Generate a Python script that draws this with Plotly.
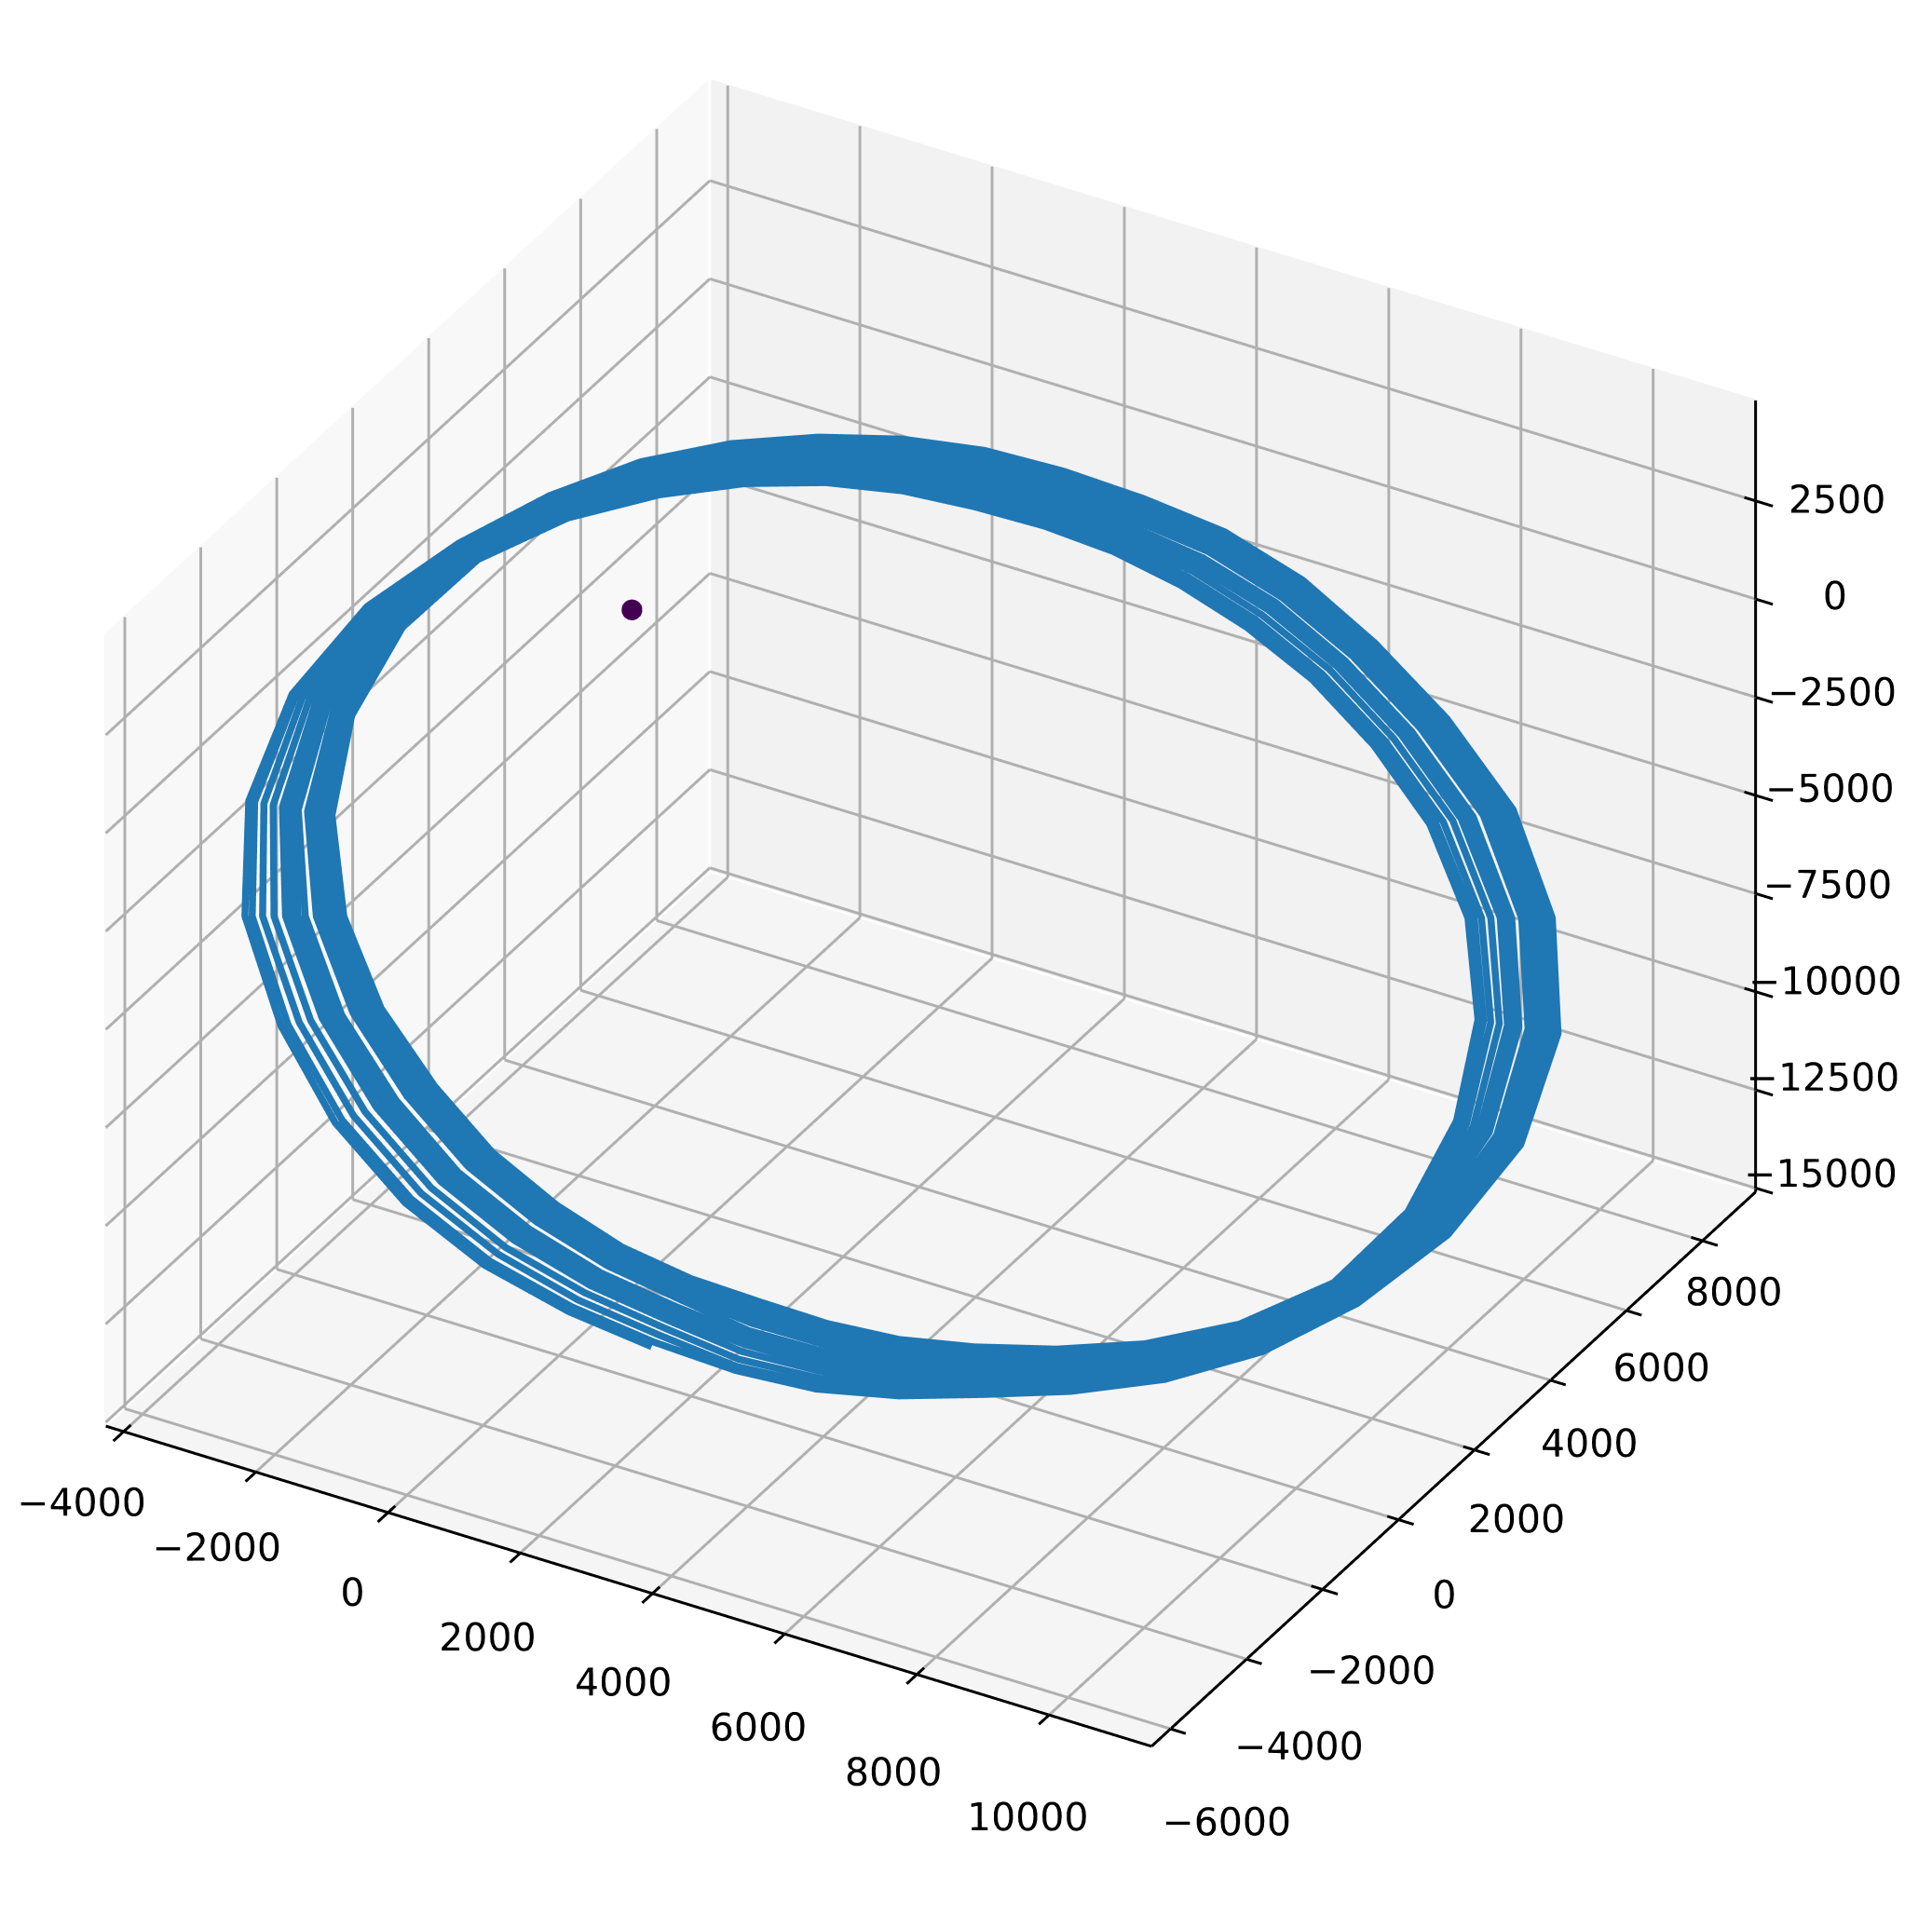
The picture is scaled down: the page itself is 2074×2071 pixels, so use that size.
import plotly.graph_objects as go

# orbit track, in tens of km, one list per revolution
x_loops = [
    [374,272,161,45,-74,-188,-293,-363,-390,-374,-327,-270,-204,-129,-49,33,119,209,303,402,508,618,735,857,964,1044,1079,1067,1024,964,888,805,723,643,559,470],
    [373,272,163,48,-69,-182,-286,-357,-386,-371,-325,-267,-202,-127,-47,35,121,210,303,402,507,616,732,853,959,1039,1075,1064,1022,961,885,803,720,641,557,468],
    [373,273,167,54,-61,-173,-276,-347,-378,-366,-322,-264,-198,-123,-44,38,123,211,303,401,505,614,729,849,954,1033,1070,1060,1019,958,882,799,717,637,554,465],
    [372,275,170,60,-52,-163,-265,-337,-370,-361,-319,-261,-195,-120,-41,40,125,212,303,400,504,612,725,844,949,1028,1065,1056,1017,955,878,795,713,634,550,463],
    [371,276,174,66,-44,-153,-254,-327,-362,-356,-316,-258,-191,-116,-38,43,126,213,304,400,502,609,722,840,944,1023,1059,1052,1014,952,875,792,710,630,547,461],
    [371,277,176,69,-39,-148,-248,-322,-358,-353,-314,-256,-188,-114,-36,45,128,214,304,399,501,607,719,836,939,1017,1055,1049,1012,950,872,789,707,628,545,460],
    [371,277,178,72,-35,-142,-242,-316,-353,-350,-312,-254,-186,-111,-33,47,130,215,304,399,499,605,716,832,935,1012,1050,1046,1010,947,870,787,705,626,543,458],
    [370,278,180,76,-30,-137,-235,-310,-348,-346,-310,-252,-183,-108,-30,50,133,217,305,398,497,600,709,823,925,1002,1041,1040,1006,943,865,783,701,623,541,457],
    [370,279,183,82,-22,-127,-224,-300,-340,-341,-307,-248,-179,-104,-26,53,135,218,305,397,495,598,706,818,919,996,1036,1036,1003,940,862,779,698,619,538,455],
    [369,280,185,85,-17,-121,-218,-294,-335,-338,-305,-246,-176,-102,-24,55,136,219,305,396,493,595,702,813,914,990,1030,1032,1000,937,859,776,695,617,536,453],
    [369,281,187,88,-12,-116,-212,-288,-331,-335,-303,-244,-173,-98,-21,58,139,221,306,396,491,591,696,806,905,981,1022,1027,997,933,855,773,692,614,534,452],
    [369,281,189,91,-9,-112,-207,-283,-327,-332,-301,-242,-170,-95,-17,61,142,222,306,395,488,587,690,798,896,972,1014,1022,993,930,852,769,689,611,532,450],
    [368,282,190,93,-5,-108,-202,-279,-323,-329,-299,-240,-168,-92,-15,64,144,224,307,394,486,584,685,791,889,964,1008,1017,990,927,848,766,687,609,530,449],
    [368,282,192,96,-2,-103,-198,-274,-319,-327,-298,-238,-165,-90,-13,66,145,225,307,393,484,581,682,786,883,958,1002,1014,988,924,846,764,684,607,528,448,368],
]
y_loops = [
    [-607,-647,-676,-683,-661,-605,-517,-385,-224,-55,104,245,370,477,568,647,713,766,812,853,874,873,858,820,737,613,454,283,120,-25,-150,-254,-342,-424,-496,-553],
    [-599,-639,-667,-673,-651,-597,-510,-380,-221,-54,104,245,369,475,565,643,709,761,806,847,867,867,852,815,732,609,452,282,120,-25,-149,-252,-339,-420,-490,-548],
    [-587,-625,-651,-657,-635,-583,-500,-373,-218,-53,104,244,367,472,562,638,703,756,801,841,861,861,846,809,727,605,450,281,120,-24,-147,-249,-335,-414,-482,-537],
    [-574,-611,-636,-641,-620,-570,-489,-366,-214,-51,104,243,365,469,558,634,698,750,795,834,854,855,840,803,722,601,447,280,120,-24,-145,-246,-331,-408,-473,-525],
    [-562,-597,-620,-625,-604,-557,-478,-359,-211,-50,104,243,364,467,554,629,693,745,789,827,848,849,834,797,717,597,445,279,120,-23,-144,-243,-326,-402,-465,-514],
    [-555,-589,-611,-616,-595,-549,-472,-355,-209,-50,104,242,362,465,552,626,688,740,783,821,841,843,828,791,712,594,443,278,120,-22,-142,-241,-324,-398,-459,-508],
    [-548,-581,-603,-607,-586,-542,-466,-351,-206,-49,104,242,361,463,549,622,684,735,778,815,835,837,822,785,707,590,441,278,120,-22,-141,-239,-321,-394,-454,-502],
    [-539,-573,-593,-598,-577,-534,-459,-347,-204,-48,104,241,360,460,545,616,676,726,768,803,823,825,810,774,698,583,437,276,120,-21,-139,-236,-317,-388,-448,-495],
    [-527,-559,-578,-582,-562,-521,-449,-340,-201,-47,104,241,358,457,541,611,670,720,761,796,815,818,803,767,692,579,434,275,120,-20,-137,-233,-312,-382,-439,-484],
    [-520,-551,-569,-573,-553,-514,-442,-335,-198,-46,104,240,357,455,538,608,665,714,755,788,808,811,796,760,687,574,431,275,120,-20,-136,-231,-309,-378,-433,-477],
    [-512,-543,-561,-564,-545,-507,-436,-331,-196,-45,104,240,355,453,534,602,658,706,746,778,796,800,785,750,678,568,428,273,120,-19,-134,-228,-306,-373,-427,-469],
    [-506,-536,-554,-557,-538,-501,-432,-328,-194,-45,104,239,354,450,530,597,651,698,737,767,785,788,774,739,669,561,424,272,120,-18,-133,-225,-302,-368,-422,-464],
    [-499,-530,-547,-550,-531,-495,-427,-325,-193,-44,105,239,352,448,527,592,645,692,729,758,775,779,765,731,662,556,421,271,120,-17,-131,-223,-299,-364,-417,-458],
    [-493,-524,-540,-543,-524,-489,-422,-321,-191,-43,105,238,351,446,525,589,641,686,724,751,768,772,758,724,656,552,419,270,120,-17,-130,-221,-297,-361,-412,-452,-493],
]
z_loops = [
    [-933,-861,-774,-669,-545,-407,-260,-120,-5,76,120,146,155,145,122,89,46,-8,-70,-140,-227,-330,-448,-583,-730,-874,-997,-1081,-1133,-1158,-1157,-1138,-1110,-1082,-1044,-992],
    [-929,-856,-770,-666,-545,-408,-263,-124,-8,73,119,144,152,141,118,85,42,-12,-73,-143,-229,-332,-449,-583,-728,-872,-993,-1079,-1130,-1155,-1154,-1134,-1106,-1078,-1039,-987],
    [-921,-850,-765,-663,-544,-410,-267,-129,-13,69,116,140,148,137,113,80,37,-16,-77,-146,-232,-333,-449,-582,-726,-869,-990,-1076,-1128,-1152,-1149,-1129,-1101,-1071,-1031,-980],
    [-914,-843,-760,-660,-543,-412,-271,-134,-18,65,113,137,143,132,108,75,32,-20,-81,-149,-234,-334,-449,-581,-724,-866,-986,-1073,-1126,-1149,-1145,-1124,-1095,-1064,-1023,-972],
    [-906,-837,-754,-656,-542,-413,-275,-140,-24,61,110,134,139,127,103,70,27,-24,-84,-152,-236,-336,-450,-580,-723,-863,-983,-1070,-1123,-1145,-1141,-1119,-1090,-1058,-1016,-965],
    [-902,-833,-751,-654,-541,-414,-277,-143,-27,58,109,132,136,124,99,66,23,-28,-87,-155,-239,-337,-450,-580,-721,-860,-980,-1067,-1121,-1143,-1138,-1116,-1086,-1053,-1011,-959],
    [-897,-829,-748,-652,-540,-415,-279,-146,-30,56,107,130,133,120,96,62,19,-32,-91,-158,-241,-338,-451,-579,-719,-857,-977,-1064,-1119,-1140,-1135,-1112,-1082,-1049,-1006,-954],
    [-892,-825,-745,-650,-540,-416,-282,-149,-33,53,105,127,129,116,90,56,12,-38,-97,-164,-245,-341,-451,-578,-715,-852,-971,-1060,-1115,-1136,-1130,-1107,-1076,-1043,-1000,-949],
    [-885,-818,-739,-647,-539,-418,-286,-154,-39,49,102,124,124,111,85,50,7,-43,-101,-167,-248,-343,-452,-577,-713,-849,-967,-1056,-1113,-1132,-1125,-1102,-1071,-1036,-992,-941],
    [-880,-814,-736,-645,-538,-419,-288,-158,-42,46,100,121,121,107,81,46,3,-47,-105,-171,-251,-344,-452,-576,-711,-845,-963,-1053,-1110,-1129,-1122,-1098,-1066,-1031,-987,-936],
    [-876,-811,-733,-643,-538,-419,-290,-161,-45,44,98,119,117,102,76,40,-4,-53,-110,-176,-255,-346,-453,-575,-708,-841,-958,-1049,-1107,-1126,-1117,-1093,-1062,-1026,-982,-931],
    [-872,-807,-731,-641,-537,-420,-292,-163,-48,41,96,116,114,98,71,34,-10,-59,-116,-181,-259,-349,-454,-573,-705,-836,-952,-1045,-1104,-1122,-1113,-1088,-1057,-1021,-977,-926],
    [-868,-804,-728,-640,-537,-421,-294,-166,-50,39,95,114,111,94,66,30,-15,-64,-120,-186,-262,-351,-454,-572,-702,-832,-948,-1041,-1101,-1118,-1109,-1084,-1053,-1017,-972,-922],
    [-864,-801,-726,-638,-537,-422,-296,-168,-53,37,93,112,108,91,63,26,-20,-68,-124,-189,-265,-352,-455,-571,-700,-828,-945,-1038,-1099,-1116,-1106,-1081,-1049,-1013,-968,-918,-864],
]
# the dot near the middle of the orbit
x_dot = [-50]
y_dot = [0]
z_dot = [2100]

x_ticks = [-4000,-2000,0,2000,4000,6000,8000,10000]
y_ticks = [-6000,-4000,-2000,0,2000,4000,6000,8000]
z_ticks = [-15000,-12500,-10000,-7500,-5000,-2500,0,2500]

# box drawn by hand: plotly clips traces to the scene range, and puts z on the wrong edge
xmin, xmax = -4270, 11550
ymin, ymax = -6500, 9400
zmin, zmax = -15100, 5060


def flat(loops):
    return [v*10 for loop in loops for v in loop]


def label(v):
    return str(v).replace("-", "\u2212")


def segs(pairs):
    xs, ys, zs = [], [], []
    for p, q in pairs:
        xs += [p[0], q[0], None]
        ys += [p[1], q[1], None]
        zs += [p[2], q[2], None]
    return xs, ys, zs


fig = go.Figure()


def pane(xs, ys, zs, color):
    fig.add_trace(go.Mesh3d(x=xs, y=ys, z=zs, i=[0,0], j=[1,2], k=[2,3], color=color, flatshading=True,
                            lighting=dict(ambient=1, diffuse=0, specular=0, fresnel=0, roughness=1),
                            hoverinfo="skip", showscale=False))


off = 25
pane([xmin-off]*4, [ymin,ymin,ymax,ymax], [zmin,zmax,zmax,zmin], "#f8f8f8")
pane([xmin,xmin,xmax,xmax], [ymax+off]*4, [zmin,zmax,zmax,zmin], "#f2f2f2")
pane([xmin,xmax,xmax,xmin], [ymin,ymin,ymax,ymax], [zmin-off]*4, "#f5f5f5")

grid = []
for t in x_ticks:
    grid += [((t,ymin,zmin),(t,ymax,zmin)), ((t,ymax,zmin),(t,ymax,zmax))]
for t in y_ticks:
    grid += [((xmin,t,zmin),(xmax,t,zmin)), ((xmin,t,zmin),(xmin,t,zmax))]
for t in z_ticks:
    grid += [((xmin,ymin,t),(xmin,ymax,t)), ((xmin,ymax,t),(xmax,ymax,t))]
gx, gy, gz = segs(grid)
fig.add_trace(go.Scatter3d(x=gx, y=gy, z=gz, mode="lines", line=dict(color="#b0b0b0", width=6), hoverinfo="skip"))

frame = [((xmin,ymin,zmin),(xmax,ymin,zmin)), ((xmax,ymin,zmin),(xmax,ymax,zmin)), ((xmax,ymax,zmin),(xmax,ymax,zmax))]
for t in x_ticks:
    frame.append(((t,ymin-270,zmin),(t,ymin+190,zmin)))
for t in y_ticks:
    frame.append(((xmax+230,t,zmin),(xmax-170,t,zmin)))
for t in z_ticks:
    frame.append(((xmax+260,ymax,t),(xmax-170,ymax,t)))
fx, fy, fz = segs(frame)
fig.add_trace(go.Scatter3d(x=fx, y=fy, z=fz, mode="lines", line=dict(color="black", width=6), hoverinfo="skip"))

fig.add_trace(go.Scatter3d(x=flat(x_loops), y=flat(y_loops), z=flat(z_loops), mode="lines",
                           line=dict(color="#1f77b4", width=15)))
fig.add_trace(go.Scatter3d(x=x_dot, y=y_dot, z=z_dot, mode="markers",
                           marker=dict(color="#440154", size=13, line=dict(width=0))))

font = dict(family="DejaVu Sans", size=41, color="black")
fig.add_trace(go.Scatter3d(x=[t-540+.0227*t for t in x_ticks], y=[ymin]*len(x_ticks), z=[zmin-2286-.0449*t for t in x_ticks],
                           mode="text", text=[label(t) for t in x_ticks], textposition="middle center", textfont=font))
fig.add_trace(go.Scatter3d(x=[xmax+690-.0274*t for t in y_ticks], y=y_ticks, z=[zmin-1530+.062*t for t in y_ticks],
                           mode="text", text=[label(t) for t in y_ticks], textposition="middle center", textfont=font))
fig.add_trace(go.Scatter3d(x=[xmax+1198+.0138*t for t in z_ticks], y=[ymax]*len(z_ticks), z=[t+725-.012*t for t in z_ticks],
                           mode="text", text=[label(t) for t in z_ticks], textposition="middle center", textfont=font))

r = 1.445
fig.update_layout(
    width=2074, height=2071, margin=dict(l=0,r=0,t=0,b=0), paper_bgcolor="white", showlegend=False,
    scene=dict(
        domain=dict(x=[0,1], y=[0,1]),
        # scene range is off-centre on purpose, to sit the box up and left on the page
        xaxis=dict(range=[-5601,14174], autorange=False, visible=False),
        yaxis=dict(range=[-8487.5,11387.5], autorange=False, visible=False),
        zaxis=dict(range=[-21302,8938], autorange=False, visible=False),
        aspectmode="manual", aspectratio=dict(x=1.565,y=1.565,z=1.452),
        camera=dict(projection=dict(type="orthographic"), up=dict(x=0,y=0,z=1), center=dict(x=0,y=0,z=0),
                    eye=dict(x=.424*r,y=-.734*r,z=.530*r)),
    ),
)
fig.write_html("out.html")
